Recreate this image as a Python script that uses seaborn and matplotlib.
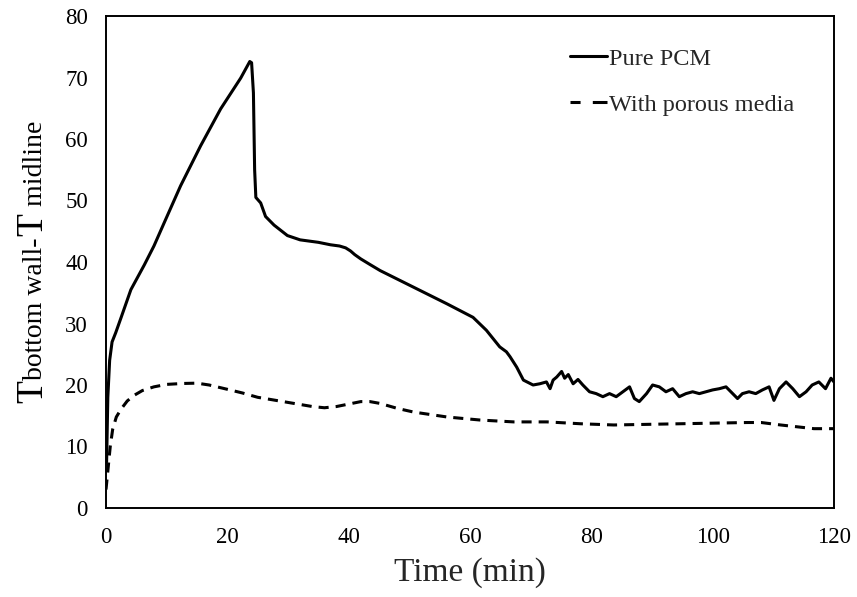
import matplotlib
matplotlib.use("Agg")
import matplotlib.pyplot as plt
import seaborn as sns
import pandas as pd

# ---- data ----
pcm_t = [0.1, 0.3, 0.6, 1.0, 1.6, 2.5, 4.1, 6.3, 7.9, 9.6, 12.3, 15.6, 18.9, 22.2,
         23.7, 24.0, 24.3, 24.5, 24.7, 25.5, 26.3, 27.7, 29.9, 32.0, 35.0, 37.0,
         38.5, 39.5, 40.3, 41.0, 42.0, 43.5, 45.2, 50.7, 56.2, 60.5, 62.7, 64.9,
         66.0, 66.6, 67.7, 68.8,
         70.4, 71.5, 72.6, 73.2, 73.7, 74.3, 75.1, 75.6, 76.2, 77.0, 77.8, 78.6,
         79.7, 80.8, 81.9, 83.0, 84.1, 85.2, 86.3, 87.1, 87.9, 89.1, 90.1, 91.2,
         92.3, 93.4, 94.5, 95.6, 96.7, 97.8, 98.9, 100.0, 101.1, 102.2, 103.3,
         104.1, 104.9, 106.0, 107.1, 108.2, 109.3, 110.1, 111.0, 112.1, 113.2,
         114.3, 115.4, 116.4, 117.5, 118.6, 119.5, 120.0]
pcm_v = [7.5, 18.0, 24.0, 27.0, 28.5, 31.0, 35.5, 39.5, 42.6, 46.4, 52.4, 58.9, 64.9, 69.9,
         72.6, 72.4, 67.5, 55.0, 50.5, 49.6, 47.4, 46.0, 44.3, 43.6, 43.2, 42.8,
         42.6, 42.3, 41.8, 41.2, 40.5, 39.6, 38.6, 35.9, 33.2, 31.0, 28.9, 26.2,
         25.4, 24.6, 22.9, 20.8,
         20.0, 20.2, 20.5, 19.4, 20.8, 21.3, 22.2, 21.1, 21.7, 20.2, 20.9, 20.0,
         18.9, 18.6, 18.1, 18.6, 18.1, 18.9, 19.7, 17.8, 17.3, 18.6, 20.0, 19.7,
         18.9, 19.4, 18.1, 18.6, 18.9, 18.6, 18.9, 19.2, 19.4, 19.7, 18.6,
         17.8, 18.6, 18.9, 18.6, 19.2, 19.7, 17.5, 19.4, 20.5, 19.4,
         18.1, 18.9, 20.0, 20.5, 19.4, 21.1, 20.5]

por_t = [0.0, 0.3, 0.7, 1.1, 1.7, 2.5, 3.5, 4.6, 6.0, 7.9, 10.0, 12.7, 15.0, 17.0,
         20.0, 22.5, 25.0, 28.0, 31.0, 34.0, 36.0, 38.0, 40.0, 42.0, 43.5, 45.2,
         48.0, 50.7, 56.2, 61.7, 67.2, 72.7, 78.2, 83.7, 89.2, 94.7, 100.2, 105.7,
         108.0, 111.2, 116.7, 120.0]
por_v = [3.0, 6.0, 10.0, 12.8, 14.8, 16.1, 17.4, 18.3, 19.1, 19.7, 20.1, 20.25, 20.3, 20.0,
         19.3, 18.7, 18.0, 17.5, 17.0, 16.5, 16.3, 16.5, 16.9, 17.3, 17.3, 17.0,
         16.2, 15.6, 14.8, 14.3, 14.0, 14.0, 13.7, 13.5, 13.6, 13.7, 13.8, 13.9,
         13.9, 13.5, 12.9, 12.9]

series_names = ["Pure PCM", "With porous media"]
x_ticks = [0, 20, 40, 60, 80, 100, 120]
y_ticks = [0, 10, 20, 30, 40, 50, 60, 70, 80]
x_label = "Time (min)"

df = pd.DataFrame({
    "t": pcm_t + por_t,
    "v": pcm_v + por_v,
    "series": [series_names[0]] * len(pcm_t) + [series_names[1]] * len(por_t),
})

sns.set_style("white")
plt.rcParams["font.family"] = ["Liberation Serif", "DejaVu Serif"]

W, H = 857, 597
fig = plt.figure(figsize=(W / 100, H / 100), dpi=100)
L, R, T, B = 106, 834, 16, 508
ax = fig.add_axes([L / W, (H - B) / H, (R - L) / W, (B - T) / H])

LW = 2.2
sns.lineplot(data=df, x="t", y="v", hue="series", style="series",
             palette={series_names[0]: "black", series_names[1]: "black"},
             dashes={series_names[0]: "", series_names[1]: (3.3, 2.3)},
             estimator=None, sort=False, linewidth=LW, ax=ax)

handles, labels = ax.get_legend_handles_labels()
for h in handles:
    h.set_linewidth(LW)
leg = ax.legend(handles, labels, loc="upper left", bbox_to_anchor=(0.637, 0.935),
                frameon=False, fontsize=17.5, handlelength=1.52, handletextpad=0.08,
                labelspacing=0.97, borderpad=0, borderaxespad=0)
leg_lines = leg.get_lines()
if len(leg_lines) > 1:
    leg_lines[1].set_dashes([3.3, 4.0, 10, 4])

ax.set_xlim(0, 120)
ax.set_ylim(0, 80)
ax.set_xticks(x_ticks)
ax.set_yticks(y_ticks)
ax.tick_params(axis="both", direction="in", length=6, width=1.3, labelsize=16.5,
               colors="black")
ax.tick_params(axis="x", pad=14)
ax.tick_params(axis="y", pad=13)
for s in ax.spines.values():
    s.set_visible(True)
    s.set_color("black")
    s.set_linewidth(1.4)

ax.set_xlabel(x_label, fontsize=24, labelpad=6)
ax.set_ylabel("")

# y label with mixed font sizes, built from pieces
fig.canvas.draw()
renderer = fig.canvas.get_renderer()
pieces = [("T", 27), ("bottom wall-", 20), ("T", 27), (" midline", 20)]
x_base = 42 / W
y_cur = (H - 403) / H
for txt, fs in pieces:
    t = fig.text(x_base, y_cur, txt, rotation=90, rotation_mode="anchor",
                 ha="left", va="baseline", fontsize=fs, color="black")
    bb = t.get_window_extent(renderer)
    y_cur = bb.y1 / H + (2 / H if txt.endswith("-") else 0)

fig.savefig("out.png", dpi=100, facecolor="white")
